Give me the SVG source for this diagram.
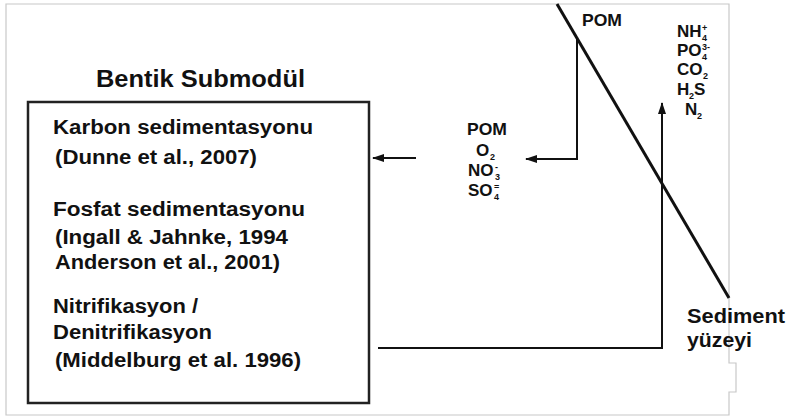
<svg xmlns="http://www.w3.org/2000/svg" width="787" height="416" viewBox="0 0 787 416">
  <defs>
    <marker id="arrow" markerWidth="12" markerHeight="10" refX="11" refY="5" orient="auto" markerUnits="userSpaceOnUse">
      <path d="M0,1 L12,5 L0,9 Z" fill="#111"/>
    </marker>
    <style>
      text { font-family: "Liberation Sans", Arial, sans-serif; font-weight: bold; fill: #111; }
      .main { font-size: 20px; }
      .title { font-size: 23px; }
      .chem { font-size: 17px; }
      .sm { font-size: 9px; }
      .conn { fill: none; stroke: #111; stroke-width: 2; }
    </style>
  </defs>

  <rect width="787" height="416" fill="#ffffff"/>
  <!-- page frame -->
  <path d="M6,4 H729 V363 H736 V392 H729 V415 H6 Z" fill="none" stroke="#c8c8c8" stroke-width="1.2"/>

  <!-- sediment surface -->
  <g id="sediment-surface">
    <line x1="557" y1="4" x2="729" y2="298" stroke="#111" stroke-width="3"/>
    <text x="687" y="323" class="main" textLength="98" lengthAdjust="spacingAndGlyphs">Sediment</text>
    <text x="687" y="347" class="main" textLength="65" lengthAdjust="spacingAndGlyphs">yüzeyi</text>
  </g>

  <!-- benthic submodule box -->
  <g id="bentik-submodul">
    <text x="96" y="87" class="title" textLength="209" lengthAdjust="spacingAndGlyphs">Bentik Submodül</text>
    <rect x="28" y="102" width="341" height="301" fill="none" stroke="#222" stroke-width="2.5"/>
    <text x="53" y="134" class="main" textLength="260" lengthAdjust="spacingAndGlyphs">Karbon sedimentasyonu</text>
    <text x="55" y="164" class="main" textLength="202" lengthAdjust="spacingAndGlyphs">(Dunne et al., 2007)</text>
    <text x="53" y="216" class="main" textLength="252" lengthAdjust="spacingAndGlyphs">Fosfat sedimentasyonu</text>
    <text x="55" y="244" class="main" textLength="233" lengthAdjust="spacingAndGlyphs">(Ingall &amp; Jahnke, 1994</text>
    <text x="55" y="269" class="main" textLength="225" lengthAdjust="spacingAndGlyphs">Anderson et al., 2001)</text>
    <text x="53" y="313" class="main" textLength="145" lengthAdjust="spacingAndGlyphs">Nitrifikasyon /</text>
    <text x="53" y="339" class="main" textLength="159" lengthAdjust="spacingAndGlyphs">Denitrifikasyon</text>
    <text x="55" y="367" class="main" textLength="246" lengthAdjust="spacingAndGlyphs">(Middelburg et al. 1996)</text>
  </g>

  <!-- settling POM above the surface -->
  <g id="pom-top">
    <text x="582" y="26" class="chem" textLength="40" lengthAdjust="spacingAndGlyphs">POM</text>
  </g>

  <!-- fluxes into the sediment -->
  <g id="influx">
    <text x="467" y="135" class="chem" textLength="40" lengthAdjust="spacingAndGlyphs">POM</text>
    <text x="476" y="156" class="chem">O</text>
    <text x="490" y="160" class="sm">2</text>
    <text x="468" y="176" class="chem">NO</text>
    <text x="495" y="180" class="sm">3</text>
    <text x="495" y="170" class="sm">-</text>
    <text x="468" y="196" class="chem">SO</text>
    <text x="494" y="200" class="sm">4</text>
    <text x="494" y="190" class="sm">=</text>
  </g>

  <!-- fluxes out of the sediment -->
  <g id="efflux">
    <text x="677" y="37" class="chem">NH</text>
    <text x="702" y="41" class="sm">4</text>
    <text x="702" y="31" class="sm">+</text>
    <text x="677" y="56" class="chem">PO</text>
    <text x="702" y="60" class="sm">4</text>
    <text x="702" y="50" class="sm">3-</text>
    <text x="677" y="75" class="chem">CO</text>
    <text x="703" y="79" class="sm">2</text>
    <text x="677" y="95" class="chem">H</text>
    <text x="689" y="99" class="sm">2</text>
    <text x="694" y="95" class="chem">S</text>
    <text x="685" y="115" class="chem">N</text>
    <text x="697" y="119" class="sm">2</text>
  </g>

  <!-- connectors -->
  <g id="connectors">
    <path class="conn" d="M577,38 V159 H526" marker-end="url(#arrow)"/>
    <path class="conn" d="M416,158 H373" marker-end="url(#arrow)"/>
    <path class="conn" d="M378,348 H662 V103" marker-end="url(#arrow)"/>
  </g>
</svg>
